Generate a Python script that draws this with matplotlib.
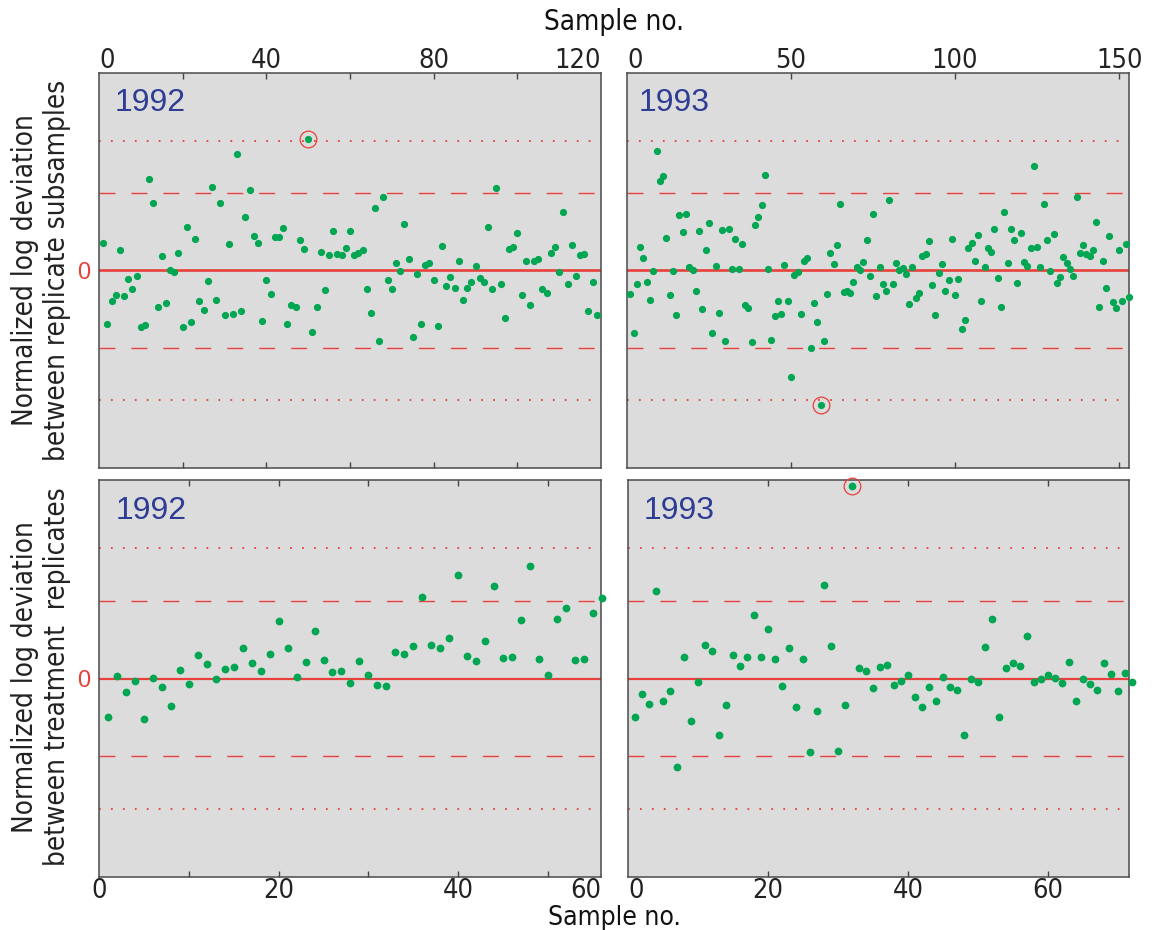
import matplotlib
matplotlib.use("Agg")
import matplotlib.pyplot as plt

# normalized log deviations, one value per sample (sample no. 1..N)
sub_1992 = [0.70, -1.36, -0.77, -0.61, 0.51, -0.64, -0.21, -0.46, -0.13, -1.42,
            -1.38, 2.31, 1.72, -0.92, 0.37, -0.83, 0.00, -0.05, 0.45, -1.42,
            1.10, -1.31, 0.81, -0.78, -1.00, -0.27, 2.12, -0.74, 1.72, -1.13,
            0.67, -1.11, 2.94, -1.03, 1.36, 2.04, 0.87, 0.69, -1.28, -0.24,
            -0.59, 0.85, 0.85, 1.07, -1.36, -0.88, -0.93, 0.77, 0.55, 3.32,
            -1.55, -0.92, 0.48, -0.50, 0.40, 0.99, 0.43, 0.38, 0.58, 1.01,
            0.38, 0.44, 0.51, -0.48, -1.08, 1.59, -1.78, 1.86, -0.24, -0.48,
            0.19, -0.02, 1.18, 0.30, -1.69, -0.08, -1.36, 0.13, 0.19, -0.24,
            -1.40, 0.62, -0.38, -0.17, -0.45, 0.24, -0.75, -0.44, -0.29, 0.12,
            -0.18, -0.29, 1.10, -0.47, 2.09, -0.34, -1.20, 0.54, 0.60, 0.94,
            -0.63, 0.23, -0.88, 0.24, 0.29, -0.47, -0.58, 0.45, 0.60, -0.05,
            1.47, -0.35, 0.64, -0.14, 0.39, 0.41, -1.03, -0.29, -1.13]

sub_1993 = [-0.60, -1.58, -0.35, 0.60, 0.32, -0.29, -0.75, -0.01, 3.03, 2.27,
            2.39, 0.83, -0.62, -0.01, -1.13, 1.40, 0.97, 1.42, 0.09, 0.01,
            -0.53, 1.01, -0.97, 0.51, 1.21, -1.58, 0.12, -1.07, 1.03, -1.78,
            1.04, 0.05, 0.79, 0.05, 0.67, -0.88, -0.94, -1.82, 1.15, 1.36,
            1.66, 2.41, 0.03, -1.75, -1.14, -0.78, -1.10, 0.15, -0.77, -2.70,
            -0.11, -0.05, -1.11, 0.25, 0.32, -1.95, -0.82, -1.31, -3.41, -1.79,
            -0.59, 0.45, 0.17, 0.64, 1.69, -0.54, -0.52, -0.57, -0.29, 0.09,
            0.01, 0.22, 0.78, -0.13, 1.42, -0.64, 0.08, -0.34, -0.51, 1.78,
            -0.34, 0.19, 0.01, 0.07, -0.10, -0.86, 0.09, -0.70, -0.57, 0.37,
            0.43, 0.75, -0.36, -1.13, -0.06, 0.17, -0.51, -0.24, 0.80, -0.61,
            -0.21, -1.47, -1.25, 0.57, 0.70, 0.24, 0.90, -0.78, 0.09, 0.57,
            0.46, 1.04, -0.18, -0.93, 1.47, 0.18, 1.04, 0.78, -0.32, 0.95,
            0.22, 0.11, 0.56, 2.65, 0.60, 0.10, 1.68, 0.78, -0.01, 0.92,
            -0.31, -0.16, 0.33, 0.18, 0.03, -0.13, 1.86, 0.45, 0.64, 0.42,
            0.36, 0.53, 1.24, -0.92, 0.24, -0.44, 0.88, -0.80, -0.95, 0.51,
            -0.77, 0.66, -0.67]

trt_1992 = [-0.97, 0.06, -0.34, -0.07, -1.03, 0.01, -0.22, -0.70, 0.22, -0.13,
            0.58, 0.37, -0.01, 0.23, 0.30, 0.76, 0.39, 0.19, 0.61, 1.46,
            0.76, 0.05, 0.42, 1.19, 0.46, 0.17, 0.19, -0.11, 0.44, 0.09,
            -0.16, -0.20, 0.67, 0.61, 0.81, 2.05, 0.84, 0.77, 1.03, 2.61,
            0.56, 0.44, 0.95, 2.33, 0.52, 0.55, 1.48, 2.83, 0.50, 0.08,
            1.51, 1.78, 0.47, 0.50, 1.66, 2.03]

trt_1993 = [-0.98, -0.40, -0.63, 2.20, -0.56, -0.32, -2.23, 0.54, -1.08, -0.09,
            0.84, 0.69, -1.42, -0.67, 0.60, 0.32, 0.54, 1.59, 0.54, 1.24,
            0.49, -0.19, 0.77, -0.71, 0.49, -1.85, -0.82, 2.36, 0.82, -1.83,
            -0.67, 4.84, 0.27, 0.18, -0.24, 0.29, 0.35, -0.17, -0.07, 0.08,
            -0.47, -0.72, -0.22, -0.56, 0.03, -0.22, -0.28, -1.43, -0.01, -0.09,
            0.79, 1.50, -0.98, 0.26, 0.39, 0.32, 1.06, -0.09, -0.01, 0.10,
            0.02, -0.11, 0.42, -0.57, -0.01, -0.13, -0.28, 0.38, 0.12, -0.32,
            0.13, -0.08]

# circled outliers (sample no.)
flag_sub_1992 = [50]
flag_sub_1993 = [59]
flag_trt_1993 = [32]

years = ["1992", "1993", "1992", "1993"]
lim_95 = 1.96
lim_999 = 3.29

green = "#00a651"
red = "#e8403a"
blue = "#2e3c94"
bg = "#dcdcdc"
cond = dict(family="DejaVu Sans", stretch="condensed")

plt.rcParams["lines.scale_dashes"] = False

fig = plt.figure(figsize=(11.52, 9.3), dpi=100)

W, H = 1152, 930
def box(x0, y0, x1, y1):
    return [x0 / W, 1 - y1 / H, (x1 - x0) / W, (y1 - y0) / H]

panels = [
    dict(data=sub_1992, flag=flag_sub_1992, rect=box(99, 73, 601, 468), xmax=120,
         marks=[20, 40, 60, 80, 100], lpos=[0, 40, 80, 120], lab=["0", "40", "80", "120"],
         ha=["left", "center", "center", "right"], top=True, ms=5.2, yx=0.032),
    dict(data=sub_1993, flag=flag_sub_1993, rect=box(627, 73, 1129, 468), xmax=153,
         marks=[50, 100, 150], lpos=[0, 50, 100, 150], lab=["0", "50", "100", "150"],
         ha=["left", "center", "center", "center"], top=True, ms=5.2, yx=0.024),
    dict(data=trt_1992, flag=[], rect=box(99, 480, 601, 877), xmax=55.9,
         marks=[10, 20, 30, 40, 50], lpos=[0, 20, 40, 55.9], lab=["0", "20", "40", "60"],
         ha=["center", "center", "center", "right"], top=False, ms=5.6, yx=0.033),
    dict(data=trt_1993, flag=flag_trt_1993, rect=box(628, 480, 1129, 877), xmax=71.6,
         marks=[20, 40, 60], lpos=[0, 20, 40, 60], lab=["0", "20", "40", "60"],
         ha=["left", "center", "center", "center"], top=False, ms=5.6, yx=0.031),
]

for i, p in enumerate(panels):
    ax = fig.add_axes(p["rect"])
    ax.set_facecolor(bg)
    n = len(p["data"])
    x = list(range(1, n + 1))
    ax.set_xlim(0, p["xmax"])
    ax.set_ylim(-5, 5)

    zero_lw = 1.9 if p["top"] else 1.6
    ax.axhline(0, color=red, lw=zero_lw, zorder=2)
    for s in (1, -1):
        ax.axhline(s * lim_95, color=red, lw=1.0, dashes=(11.5, 11.5), zorder=1)
        ax.axhline(s * lim_999, color=red, lw=1.3, dashes=(1.3, 7.3), zorder=1)

    ax.plot(x, p["data"], "o", color=green, ms=p["ms"], mec="none", zorder=3, clip_on=False)
    fx = p["flag"]
    fy = [p["data"][k - 1] for k in fx]
    ax.plot(fx, fy, "o", mfc="none", mec=red, ms=12, mew=0.9, zorder=4, clip_on=False)

    ax.text(p["yx"], 0.903, years[i], transform=ax.transAxes, color=blue,
            fontsize=23, family="Liberation Sans", va="baseline", ha="left")

    # tick marks (minor) and labels (major)
    ax.xaxis.remove_overlapping_locs = False
    ax.set_xticks(p["marks"], minor=True)
    ax.set_xticks(p["lpos"])
    ax.set_xticklabels(p["lab"], fontsize=19.5, color="#222222", **cond)
    ax.tick_params(axis="x", which="minor", direction="in", length=4.5, width=1.0,
                   top=True, bottom=True, color="#444444")
    if p["top"]:
        ax.tick_params(axis="x", which="major", length=0, top=True, bottom=False,
                       labeltop=True, labelbottom=False, pad=-1)
    else:
        ax.tick_params(axis="x", which="major", length=0, pad=0.5)
    for tk, h in zip(ax.xaxis.get_major_ticks(), p["ha"]):
        tk.label1.set_ha(h)
        tk.label2.set_ha(h)

    if i % 2 == 0:
        ax.set_yticks([0])
        ax.set_yticklabels(["0"], color=red, fontsize=17, family="Liberation Sans")
        ax.tick_params(axis="y", length=0, pad=6)
    else:
        ax.set_yticks([])

    for sp in ax.spines.values():
        sp.set_color("#4a4a4a")
        sp.set_linewidth(1.1)

fig.text(614 / W, 1 - 22 / H, "Sample no.", fontsize=20,
         ha="center", va="center", color="#111111", **cond)
fig.text(614 / W, 1 - 925 / H, "Sample no.", fontsize=19,
         ha="center", va="baseline", color="#111111", **cond)
fig.text(41 / W, 1 - 270 / H, "Normalized log deviation\nbetween replicate subsamples",
         fontsize=20, rotation=90, ha="center", va="center",
         linespacing=1.2, color="#222222", **cond)
fig.text(41 / W, 1 - 677 / H, "Normalized log deviation\nbetween treatment  replicates",
         fontsize=20, rotation=90, ha="center", va="center",
         linespacing=1.2, color="#222222", **cond)

fig.savefig("out.png", dpi=100, facecolor="white")
